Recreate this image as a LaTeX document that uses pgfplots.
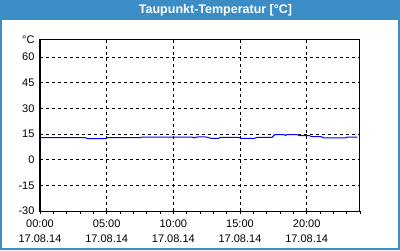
\documentclass[border=0pt]{standalone}
\usepackage{pgfplots}
\pgfplotsset{compat=1.18}
\usepackage{fontspec}
\setmainfont{Liberation Sans}
\definecolor{barblue}{HTML}{3C8DC5}
\begin{document}
\begin{tikzpicture}[x=1pt,y=1pt]
\useasboundingbox (0,0) rectangle (400,250);
\fill[white] (0,0) rectangle (400,250);
\draw[barblue,line width=2pt] (1,1) rectangle (399,249);
\fill[barblue] (0,230) rectangle (400,250);
\node[text=white,font=\fontsize{12.5}{14}\selectfont\bfseries] at (215.5,240) {Taupunkt-Temperatur [°C]};
\begin{axis}[
  at={(40pt,39pt)}, anchor=south west,
  width=320pt, height=171pt, scale only axis,
  xmin=0, xmax=24, ymin=-30, ymax=70,
  xtick={0,5,10,15,20},
  xticklabels={{00:00\\17.08.14},{05:00\\17.08.14},{10:00\\17.08.14},{15:00\\17.08.14},{20:00\\17.08.14}},
  minor x tick num=4,
  extra x ticks={21,22,23,24},
  extra x tick labels={},
  extra x tick style={grid=none},
  ytick={-30,-15,0,15,30,45,60},
  extra y ticks={70},
  extra y tick labels={°C},
  extra y tick style={grid=none},
  grid=major,
  major grid style={black,dashed,line width=0.8pt,dash pattern=on 3pt off 3pt},
  axis line style={black,line width=1pt},
  tick align=outside,
  xtick pos=bottom, ytick pos=left,
  major tick length=3pt, minor tick length=3pt,
  every tick/.style={black,line width=0.8pt},
  y tick style={draw=none},
  xticklabel style={align=center,font=\fontsize{11}{15}\selectfont,yshift=-2pt},
  yticklabel style={font=\fontsize{11}{13}\selectfont,xshift=1pt},
  /pgf/number format/assume math mode=true,
]
\addplot[blue,line width=1pt,mark=none] coordinates {
(0,12.9) (3.4,12.9) (3.55,12.3) (4.9,12.3) (5.0,12.9) (7.5,12.9) (7.65,13.25) (11.4,13.25) (11.55,12.8) (11.75,13.25) (12.3,13.4) (12.5,13.2) (12.85,12.5) (13.4,12.5) (13.55,13.1) (14.9,13.1) (15.1,12.5) (16.1,12.5) (16.3,13.1) (17.4,13.1) (17.6,14.6) (18.3,14.6) (18.4,14.2) (18.5,14.6) (19.3,14.6) (19.45,14.1) (20.2,14.1) (20.35,13.5) (21.1,13.5) (21.25,12.7) (22.9,12.7) (23.05,13.25) (23.8,13.25)
};
\end{axis}
\end{tikzpicture}
\end{document}
